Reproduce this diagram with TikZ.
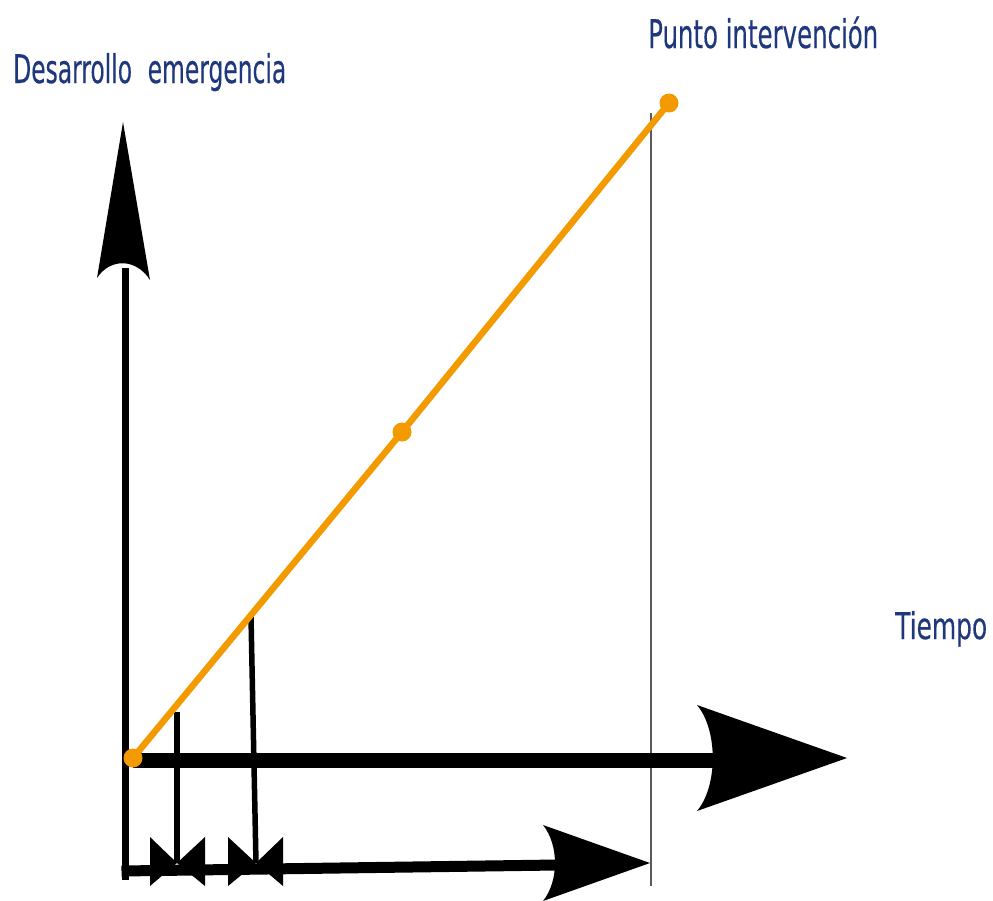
\documentclass[tikz,border=0pt]{standalone}
\usepackage{fontspec}
\setmainfont{DejaVu Sans}[FakeBold=0.4]
\definecolor{txtblue}{RGB}{31,56,125}
\definecolor{orng}{RGB}{243,154,0}
\definecolor{vgray}{RGB}{90,90,90}
\tikzset{
  lbl/.style={anchor=base west, inner sep=0pt, text=txtblue},
  axisline/.style={line width=#1, black},
  tipfill/.style={fill=black},
  emline/.style={line width=6.5pt, orng},
  emdot/.style={circle, fill=orng, inner sep=0pt, minimum size=19pt},
  marker/.style={line width=5.5pt, black},
  guide/.style={line width=1.5pt, vgray}
}
\begin{document}
\begin{tikzpicture}[x=1pt,y=-1pt]
\useasboundingbox (0,0) rectangle (993,900);
% coordinates
\coordinate (vtop) at (125,268);
\coordinate (vbot) at (125,880);
\coordinate (hstart) at (133,760);
\coordinate (hend) at (716,760);
\coordinate (lstart) at (121.5,871);
\coordinate (lend) at (557,865);
\coordinate (gtop) at (651,113);
\coordinate (gbot) at (651,886);
\coordinate (m1top) at (177,712);
\coordinate (m1bot) at (177,863);
\coordinate (m2top) at (251,617);
\coordinate (m2bot) at (256,863);
% guide line
\draw[guide] (gtop) -- (gbot);
% vertical axis
\draw[axisline=7pt] (vbot) -- (vtop);
\fill[tipfill] (123,122) -- (150,280) .. controls (136,258) and (110,258) .. (97,278) -- cycle;
% main time axis
\draw[axisline=15pt] (hstart) -- (hend);
\fill[tipfill] (847,758) -- (697,705) .. controls (718,730) and (718,786) .. (697,811) -- cycle;
% lower axis
\draw[axisline=11pt] (lstart) -- (lend);
\fill[tipfill] (650,863) -- (543,825) .. controls (559,845) and (559,881) .. (543,901) -- cycle;
% markers
\draw[marker] (m1top) -- (m1bot);
\draw[marker] (m2top) -- (m2bot);
\fill[tipfill] (150,837) -- (m1bot) -- (150,886) -- cycle;
\fill[tipfill] (205,837) -- (m1bot) -- (205,886) -- cycle;
\fill[tipfill] (228,837) -- (m2bot) -- (228,886) -- cycle;
\fill[tipfill] (283,837) -- (m2bot) -- (283,886) -- cycle;
% emergency line
\node[emdot] (O) at (133,758) {};
\node[emdot] (M) at (402,432) {};
\node[emdot] (E) at (669,103) {};
\draw[emline] (O.center) -- (M.center) -- (E.center);
% labels
\node[lbl] (ylabel) at (13,83) {\resizebox{273pt}{30pt}{Desarrollo\hspace{0.35em} emergencia}};
\node[lbl] (plabel) at (648,48) {\resizebox{230pt}{30pt}{Punto intervenci\smash{ó}n}};
\node[lbl] (xlabel) at (895,639) {\resizebox{92pt}{28pt}{Tiempo}};
\end{tikzpicture}
\end{document}
